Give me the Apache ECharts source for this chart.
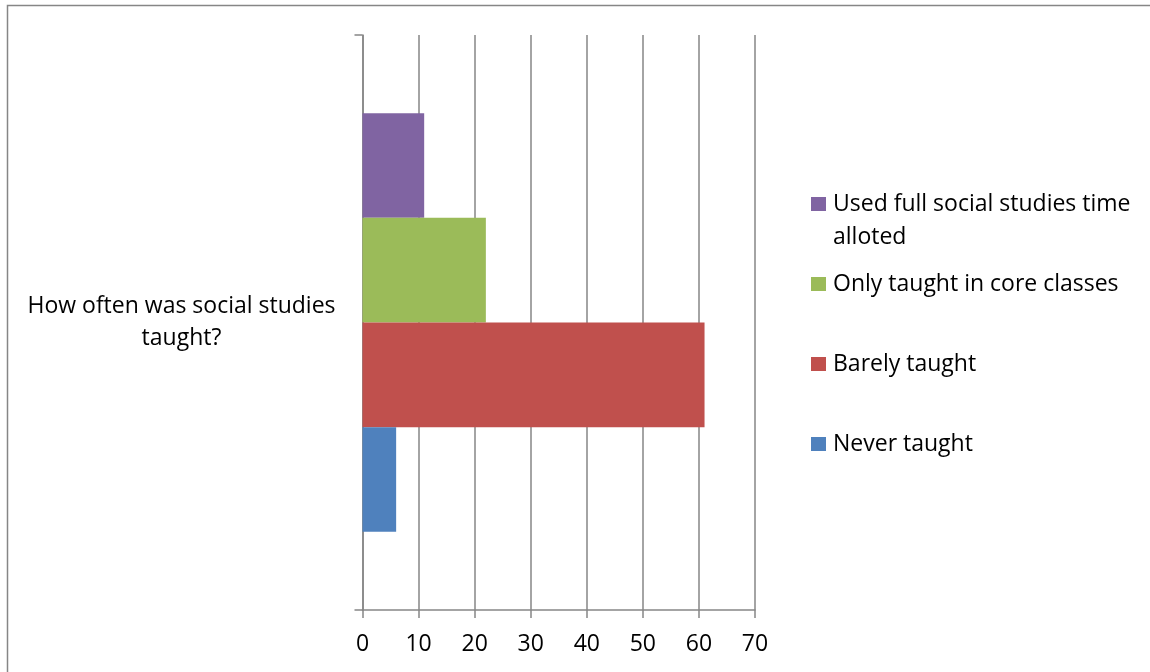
<!DOCTYPE html>
<html>
<head>
<meta charset="utf-8">
<script src="https://cdn.jsdelivr.net/npm/echarts@6/dist/echarts.min.js"></script>
<style>html,body{margin:0;padding:0;background:#fff}#c{width:1150px;height:672px}</style>
</head>
<body>
<div id="c"></div>
<script>
var categories = ['How often was social studies\ntaught?'];
var seriesNames = ['Used full social studies time alloted', 'Only taught in core classes', 'Barely taught', 'Never taught'];
var usedFull = [11];
var onlyCore = [22];
var barelyTaught = [61];
var neverTaught = [6];
var xTicks = [0, 10, 20, 30, 40, 50, 60, 70];

var colors = ['#8064A2', '#9BBB59', '#C0504D', '#4F81BD'];
var values = [usedFull, onlyCore, barelyTaught, neverTaught];
var FONT = 'Open Sans';
var chart = echarts.init(document.getElementById('c'), null, {renderer: 'canvas'});

var legendTops = [204, 284, 364, 444];
var legends = seriesNames.map(function (n, i) {
  return {
    data: [n],
    left: 811,
    top: legendTops[i] - 13,
    orient: 'vertical',
    padding: 0,
    itemWidth: 15,
    itemHeight: 14,
    itemGap: 7,
    selectedMode: false,
    icon: 'rect',
    formatter: function (name) { return name === seriesNames[0] ? 'Used full social studies time' : name; },
    textStyle: {fontFamily: FONT, fontSize: 23, color: '#000', padding: [0, 0, 0, 2], lineHeight: 26}
  };
});

chart.setOption({
  animation: false,
  color: colors,
  textStyle: {fontFamily: FONT},
  grid: {left: 362.5, right: 395, top: 35, bottom: 62, containLabel: false},
  legend: legends,
  graphic: [
    {type: 'rect', shape: {x: 7.5, y: 5.5, width: 1300, height: 800}, style: {fill: 'none', stroke: '#868686', lineWidth: 1.5}, silent: true, z: -10},
    {type: 'text', left: 833, top: 226, style: {text: 'alloted', font: '23px "Open Sans"', fill: '#000'}}
  ],
  xAxis: {
    type: 'value', min: 0, max: 70, interval: 10,
    axisLine: {show: true, lineStyle: {color: '#868686', width: 1.5}},
    axisTick: {show: true, length: 8, lineStyle: {color: '#868686', width: 1.5}},
    splitLine: {show: true, lineStyle: {color: '#868686', width: 1.5}},
    axisLabel: {color: '#000', fontSize: 23, fontFamily: FONT, margin: 23,
      formatter: function (v) { return xTicks.indexOf(v) >= 0 ? String(v) : ''; }}
  },
  yAxis: {
    type: 'category', data: categories,
    axisLine: {show: true, lineStyle: {color: '#868686', width: 1.5}},
    axisTick: {show: true, length: 8, lineStyle: {color: '#868686', width: 1.5}},
    axisLabel: {color: '#000', fontSize: 23, fontFamily: FONT, align: 'center', margin: 181, lineHeight: 32, padding: [4, 0, 0, 0]}
  },
  series: seriesNames.map(function (n, i) {
    return {name: n, type: 'bar', data: values[i], barGap: '0%', barCategoryGap: '27.2%',
      itemStyle: {color: colors[i]}, z: 3};
  })
});
</script>
</body>
</html>
